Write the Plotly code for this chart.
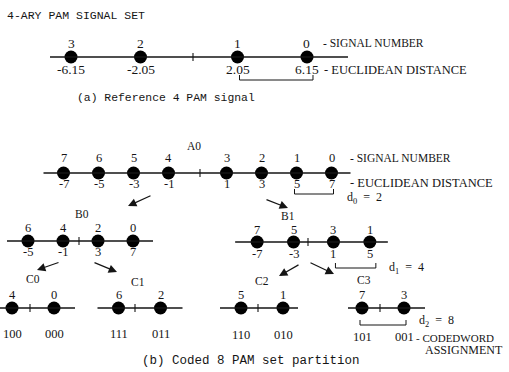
import numpy as np
import plotly.graph_objects as go

# ---------------- data ----------------
pam4_signal = [3, 2, 1, 0]
pam4_dist = [-6.15, -2.05, 2.05, 6.15]

a0_signal = [7, 6, 5, 4, 3, 2, 1, 0]
a0_dist = [-7, -5, -3, -1, 1, 3, 5, 7]

b0_signal = [6, 4, 2, 0]
b0_dist = [-5, -1, 3, 7]
b1_signal = [7, 5, 3, 1]
b1_dist = [-7, -3, 1, 5]

c0_signal = [4, 0]
c0_dist = [-1, 7]
c0_code = ["100", "000"]
c1_signal = [6, 2]
c1_dist = [-5, 3]
c1_code = ["111", "011"]
c2_signal = [5, 1]
c2_dist = [-3, 5]
c2_code = ["110", "010"]
c3_signal = [7, 3]
c3_dist = [-7, 1]
c3_code = ["101", "001"]

min_distances = [2, 4, 8]  # d0, d1, d2

# ---------------- layout of the diagram (positions / styles) ----------------
W, H = 509, 372
INK = "#151515"
SERIF = "Liberation Serif"
MONO = "Liberation Mono"

rows = {
    "pam4": dict(sig=pam4_signal, dist=pam4_dist, show_dist=True, code=None, name=None,
                 cx=189, y=57, k=16.95, g=13.75, ext=(21, 41), tick=193, ndy=-14, ddy=12, fs=13.5),
    "A0": dict(sig=a0_signal, dist=a0_dist, show_dist=True, code=None, name="A0", name_xy=(194, 146),
               cx=197.5, y=173, k=17.5, g=11.5, ext=(20, 19), tick=200, ndy=-15, ddy=11, fs=12.5),
    "B0": dict(sig=b0_signal, dist=b0_dist, show_dist=True, code=None, name="B0", name_xy=(82, 214),
               cx=80.5, y=241, k=8.75, g=0, ext=(21, 20), tick=79, ndy=-13, ddy=11, fs=12.5),
    "B1": dict(sig=b1_signal, dist=b1_dist, show_dist=True, code=None, name="B1", name_xy=(288, 216),
               cx=313.5, y=242, k=9.1, g=1.75, ext=(22, 18), tick=308, ndy=-12, ddy=12, fs=12.5),
    "C0": dict(sig=c0_signal, dist=c0_dist, show_dist=False, code=c0_code, name="C0", name_xy=(33, 279),
               cx=33, y=308, k=5.25, g=0, ext=(12, 21), tick=30, ndy=-13, ddy=26, fs=12.5),
    "C1": dict(sig=c1_signal, dist=c1_dist, show_dist=False, code=c1_code, name="C1", name_xy=(138, 282),
               cx=139.5, y=308, k=5.25, g=0, ext=(21, 22), tick=135, ndy=-13, ddy=26, fs=12.5),
    "C2": dict(sig=c2_signal, dist=c2_dist, show_dist=False, code=c2_code, name="C2", name_xy=(262, 281),
               cx=262, y=308, k=5.25, g=0, ext=(21, 15), tick=258, ndy=-13, ddy=27, fs=12.5),
    "C3": dict(sig=c3_signal, dist=c3_dist, show_dist=False, code=c3_code, name="C3", name_xy=(364, 280),
               cx=383, y=308, k=5.25, g=0, ext=(14, 21), tick=380, ndy=-13, ddy=29, fs=12.5),
}


def xpos(r):
    d = np.asarray(r["dist"], dtype=float)
    m = d.mean()
    return r["cx"] + r["k"] * (d - m) + r["g"] * np.sign(d - m)


def fmt(d):
    return f"{d:.2f}" if isinstance(d, float) else str(d)


fig = go.Figure()
shapes = []
ann = []


def text(x, y, s, size=12, font=SERIF, xanchor="center"):
    ann.append(dict(x=x, y=y, text=s, showarrow=False, xanchor=xanchor, yanchor="middle",
                    font=dict(family=font, size=size, color=INK)))


for key, r in rows.items():
    xs = xpos(r)
    y = r["y"]
    # axis line
    shapes.append(dict(type="line", x0=xs.min() - r["ext"][0], x1=xs.max() + r["ext"][1], y0=y, y1=y,
                       line=dict(color=INK, width=1.4)))
    # centre tick
    shapes.append(dict(type="line", x0=r["tick"], x1=r["tick"], y0=y - 4, y1=y + 4,
                       line=dict(color=INK, width=1.1)))
    # points
    fig.add_trace(go.Scatter(x=xs, y=[y] * len(xs), mode="markers",
                             marker=dict(size=13, color="#000"), hoverinfo="skip", showlegend=False))
    # signal numbers
    for xi, s in zip(xs, r["sig"]):
        text(xi, y + r["ndy"], str(s), size=r["fs"])
    # euclidean distances / codewords
    if r["show_dist"]:
        for xi, d in zip(xs, r["dist"]):
            text(xi, y + r["ddy"], fmt(d), size=r["fs"])
    if r["code"]:
        for xi, c in zip(xs, r["code"]):
            text(xi, y + r["ddy"], c, size=12.5)
    if r["name"]:
        text(r["name_xy"][0], r["name_xy"][1], r["name"], size=11.5)

# brackets showing minimum distances
brackets = [
    # row, i, j, shift, bottom dy, label index, label dy
    ("pam4", 2, 3, 4, 23, None, 0),
    ("A0", 6, 7, 0, 21, 0, 5),
    ("B1", 2, 3, 4, 26, 1, 1),
    ("C3", 0, 1, 0, 17, 2, -3),
]
for key, i, j, sh, dy, li, ldy in brackets:
    r = rows[key]
    xs = xpos(r)
    x0, x1 = xs[i] - 2 + sh, xs[j] + 2 + sh
    yb = r["y"] + dy
    shapes.append(dict(type="path", path=f"M {x0},{yb-5} L {x0},{yb} L {x1},{yb} L {x1},{yb-5}",
                       line=dict(color=INK, width=1)))
    if li is not None:
        text(x1 + 11, yb - 1 + ldy, f"d<sub>{li}</sub>\u00a0\u00a0=\u00a0\u00a0{min_distances[li]}",
             size=12, xanchor="left")

# side legends
xa = xpos(rows["pam4"]).max()
text(xa + 14, rows["pam4"]["y"] - 14, "- SIGNAL NUMBER", size=11.5, xanchor="left")
text(xa + 15, rows["pam4"]["y"] + 13, "- EUCLIDEAN DISTANCE", size=12.5, xanchor="left")
xb = xpos(rows["A0"]).max()
text(xb + 16, rows["A0"]["y"] - 15, "- SIGNAL NUMBER", size=11.5, xanchor="left")
text(xb + 16, rows["A0"]["y"] + 10, "- EUCLIDEAN DISTANCE", size=12.5, xanchor="left")
text(414, 338, "- CODEDWORD", size=11, xanchor="left")
text(423, 350, "ASSIGNMENT", size=12, xanchor="left")

# titles / captions
text(5, 15, "4-ARY PAM SIGNAL SET", size=11.5, font=MONO, xanchor="left")
text(75, 98, "(a) Reference 4 PAM signal", size=11.4, font=MONO, xanchor="left")
text(140, 361, "(b) Coded 8 PAM set partition", size=12.5, font=MONO, xanchor="left")

# partition arrows (tail -> head)
arrows = [
    ((152, 195), (128, 206)),
    ((265, 199), (288, 208)),
    ((60, 262), (37, 270)),
    ((93, 262), (117, 272)),
    ((300, 264), (279, 276)),
    ((309, 262), (334, 274)),
]
for (tx, ty), (hx, hy) in arrows:
    ann.append(dict(x=hx, y=hy, ax=tx, ay=ty, xref="x", yref="y", axref="x", ayref="y",
                    showarrow=True, arrowhead=2, arrowsize=1.4, arrowwidth=1.2, arrowcolor=INK, text=""))

fig.update_layout(
    width=W, height=H, margin=dict(l=0, r=0, t=0, b=0),
    paper_bgcolor="white", plot_bgcolor="white",
    xaxis=dict(range=[0, W], visible=False, fixedrange=True),
    yaxis=dict(range=[H, 0], visible=False, fixedrange=True),
    shapes=shapes, annotations=ann, showlegend=False,
)

fig.write_html("out.html", config={"displayModeBar": False, "staticPlot": True},
               post_script="document.body.style.margin='0';")
